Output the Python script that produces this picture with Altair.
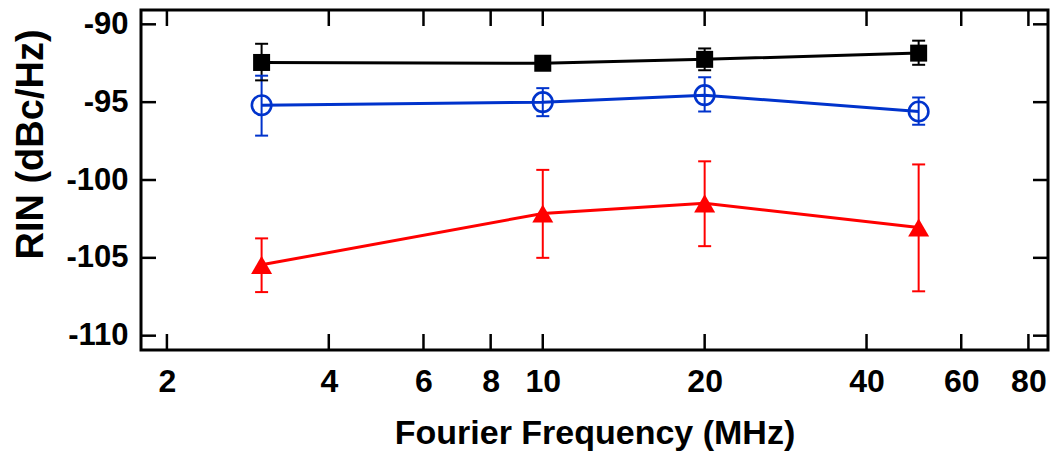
import altair as alt
import pandas as pd

# ---- data ----
freq = [3, 10, 20, 50]
series_names = ["black", "blue", "red"]
series_colors = ["#000000", "#0033CC", "#FF0000"]

black_rin = [-92.45, -92.5, -92.25, -91.85]
black_lo = [-93.6, -92.75, -92.95, -92.6]
black_hi = [-91.25, -92.25, -91.55, -91.05]

blue_rin = [-95.2, -95.0, -94.55, -95.6]
blue_lo = [-97.15, -95.9, -95.6, -96.45]
blue_hi = [-93.3, -94.1, -93.4, -94.7]

red_rin = [-105.45, -102.15, -101.5, -103.05]
red_lo = [-107.2, -105.0, -104.25, -107.15]
red_hi = [-103.75, -99.35, -98.8, -99.0]

x_ticks = [2, 4, 6, 8, 10, 20, 40, 60, 80]
y_ticks = [-90, -95, -100, -105, -110]

rows = []
for name, rin, lo, hi in [
    ("black", black_rin, black_lo, black_hi),
    ("blue", blue_rin, blue_lo, blue_hi),
    ("red", red_rin, red_lo, red_hi),
]:
    for f, r, l, h in zip(freq, rin, lo, hi):
        rows.append(dict(freq=f, rin=r, lo=l, hi=h, series=name))
df = pd.DataFrame(rows)
xt = pd.DataFrame({"v": x_ticks})
yt = pd.DataFrame({"v": y_ticks})

W, H = 907, 340
FONT = "Liberation Sans"

xscale = alt.Scale(type="log", domain=[1.79, 87], nice=False)
yscale = alt.Scale(domain=[-110.92, -89.08], nice=False, zero=False)

xaxis = alt.Axis(
    title="Fourier Frequency (MHz)", values=x_ticks, labelExpr="toString(datum.value)",
    ticks=False, tickSize=0, domain=False, grid=False,
    labelPadding=41, labelBaseline="alphabetic", labelOverlap=False, labelFlush=False,
    labelFontSize=32,
    titleBaseline="alphabetic", titleY=93, titleFontSize=34,
)
yaxis = alt.Axis(
    title="RIN (dBc/Hz)", values=y_ticks, labelExpr="toString(datum.value)",
    ticks=False, tickSize=0, domain=False, grid=False,
    labelPadding=13, labelOverlap=False, labelFlush=False,
    labelFontSize=31,
    titleBaseline="alphabetic", titleX=-99, titleY=134, titleFontSize=38,
)


def X(field):
    return alt.X(f"{field}:Q", scale=xscale, axis=xaxis)


def Y(field):
    return alt.Y(f"{field}:Q", scale=yscale, axis=yaxis)


color_enc = alt.Color("series:N", scale=alt.Scale(domain=series_names, range=series_colors), legend=None)

base = alt.Chart(df)

err_rule = base.mark_rule(strokeWidth=2).encode(x=X("freq"), y=Y("lo"), y2="hi:Q", color=color_enc)
cap_lo = base.mark_tick(orient="horizontal", size=13, thickness=2, opacity=1).encode(x=X("freq"), y=Y("lo"), color=color_enc)
cap_hi = base.mark_tick(orient="horizontal", size=13, thickness=2, opacity=1).encode(x=X("freq"), y=Y("hi"), color=color_enc)

lines = base.mark_line(strokeWidth=3).encode(x=X("freq"), y=Y("rin"), color=color_enc, detail="series:N")

pts_black = base.transform_filter(alt.datum.series == "black").mark_point(
    shape="square", filled=True, size=289, color="#000000", opacity=1
).encode(x=X("freq"), y=Y("rin"))
pts_blue = base.transform_filter(alt.datum.series == "blue").mark_point(
    shape="circle", filled=False, size=380, strokeWidth=2.6, color="#0033CC", opacity=1
).encode(x=X("freq"), y=Y("rin"))
pts_red = base.transform_filter(alt.datum.series == "red").mark_point(
    shape="triangle-up", filled=True, size=441, color="#FF0000", opacity=1
).encode(x=X("freq"), y=Y("rin"))

# inward ticks on all four sides
tick_bottom = alt.Chart(xt).mark_rule(strokeWidth=2.5, color="black").encode(
    x=X("v"), y=alt.value(H), y2=alt.value(H - 16))
tick_top = alt.Chart(xt).mark_rule(strokeWidth=2.5, color="black").encode(
    x=X("v"), y=alt.value(0), y2=alt.value(16))
tick_left = alt.Chart(yt).mark_rule(strokeWidth=2.5, color="black").encode(
    y=Y("v"), x=alt.value(0), x2=alt.value(15))
tick_right = alt.Chart(yt).mark_rule(strokeWidth=2.5, color="black").encode(
    y=Y("v"), x=alt.value(W), x2=alt.value(W - 15))

chart = alt.layer(
    tick_bottom, tick_top, tick_left, tick_right,
    err_rule, cap_lo, cap_hi, lines, pts_blue, pts_black, pts_red,
).properties(
    width=W, height=H, autosize="none",
    padding={"left": 133, "top": 2, "right": 2, "bottom": 104},
).configure_view(
    stroke="black", strokeWidth=3
).configure_axis(
    labelFont=FONT, labelFontWeight="bold", labelColor="black",
    titleFont=FONT, titleFontWeight="bold", titleColor="black",
)

chart.save("out.html", embed_options={"renderer": "svg", "actions": False})
